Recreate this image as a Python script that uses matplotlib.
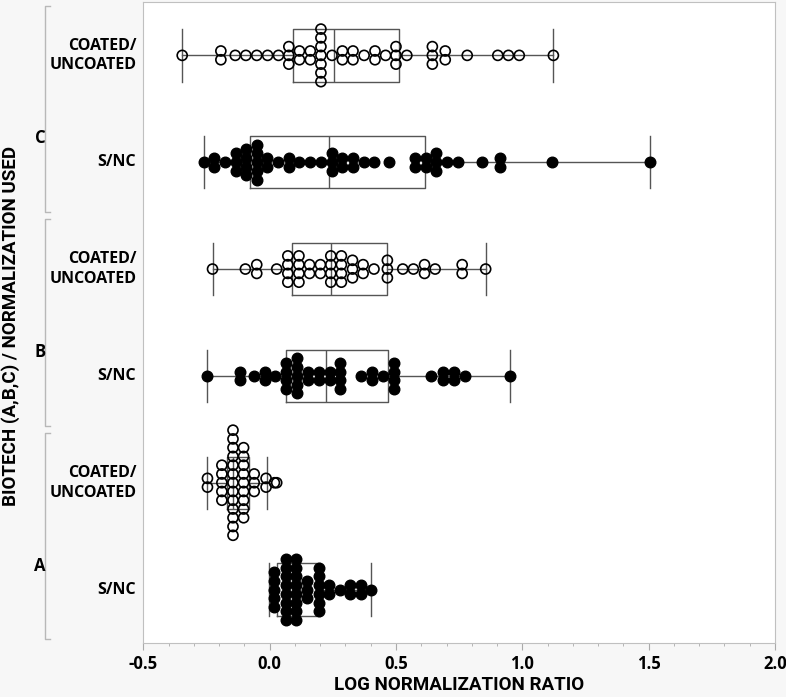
import matplotlib
matplotlib.use("Agg")
import matplotlib.pyplot as plt
import matplotlib.transforms as mtransforms
import numpy as np

# rows from bottom to top
row_labels = ["S/NC", "COATED/\nUNCOATED", "S/NC", "COATED/\nUNCOATED", "S/NC", "COATED/\nUNCOATED"]
group_labels = ["A", "B", "C"]
x_ticks = [-0.5, 0.0, 0.5, 1.0, 1.5, 2.0]

a_snc = [0.016] * 5 + [0.063] * 8 + [0.105] * 8 + [0.149] * 3 + [0.194] * 6 + \
    [0.235] * 2 + [0.277] + [0.317] * 2 + [0.360] * 2 + [0.401]
a_coated = [-0.246] * 2 + [-0.189] * 5 + [-0.145] * 13 + [-0.103] * 9 + \
    [-0.061] * 3 + [-0.014] * 2 + [0.019, 0.028]
b_snc = [-0.246] + [-0.118] * 2 + [-0.063] + [-0.020] * 2 + [0.023] + [0.065] * 4 + \
    [0.108] * 5 + [0.153] * 2 + [0.195] * 2 + [0.238] * 2 + [0.280] * 4 + [0.362] + \
    [0.406] * 2 + [0.450] + [0.493] * 4 + [0.638] + [0.688] * 2 + [0.731] * 2 + [0.774, 0.953]
b_coated = [-0.226, -0.096] + [-0.051] * 2 + [0.028] + [0.072] * 4 + [0.116] * 4 + \
    [0.158] * 2 + [0.201] * 2 + [0.242] * 4 + [0.284] * 4 + [0.328] * 3 + [0.370] * 2 + \
    [0.413] + [0.466] * 3 + [0.527, 0.569] + [0.613] * 2 + [0.655] + [0.762] * 2 + [0.855]
c_snc = [-0.259] + [-0.220] * 2 + [-0.177] + [-0.135] * 3 + [-0.094] * 4 + [-0.051] * 5 + \
    [-0.010] * 2 + [0.032] + [0.076] * 2 + [0.118, 0.161, 0.203] + [0.246] * 3 + \
    [0.288] * 2 + [0.330] * 2 + [0.373, 0.415, 0.471] + [0.574] * 2 + [0.617] * 2 + \
    [0.659] * 3 + [0.702, 0.744, 0.842] + [0.911] * 2 + [1.119, 1.505]
c_coated = [-0.346] + [-0.193] * 2 + [-0.136, -0.094, -0.051, -0.008, 0.035] + [0.076] * 3 + \
    [0.118] * 2 + [0.161] * 2 + [0.203] * 7 + [0.247] + [0.288] * 2 + [0.330] * 2 + [0.374] + \
    [0.417] * 2 + [0.459] + [0.500] * 3 + [0.543] + [0.644] * 3 + [0.695] * 2 + \
    [0.782, 0.903, 0.945, 0.988, 1.123]
row_values = [a_snc, a_coated, b_snc, b_coated, c_snc, c_coated]
row_filled = [True, False, True, False, True, False]

# box stats: low whisker, q1, median, q3, high whisker
whis_lo = [-0.001, -0.246, -0.246, -0.226, -0.259, -0.346]
q1 = [0.030, -0.167, 0.065, 0.088, -0.079, 0.092]
med = [0.090, -0.145, 0.224, 0.244, 0.236, 0.255]
q3 = [0.198, -0.080, 0.467, 0.464, 0.613, 0.513]
whis_hi = [0.401, -0.012, 0.953, 0.855, 1.505, 1.123]

LABEL_FONT = ["Roboto", "DejaVu Sans"]


def main():
    fig = plt.figure(figsize=(7.86, 6.97), dpi=100)
    fig.patch.set_facecolor("#f7f7f7")
    ax = fig.add_axes([0.1823, 0.0775, 0.8037, 0.9197])
    ax.set_facecolor("white")

    stats = []
    for i in range(len(row_values)):
        stats.append(dict(whislo=whis_lo[i], q1=q1[i], med=med[i], q3=q3[i],
                          whishi=whis_hi[i], fliers=[]))
    line = dict(color="#555555", linewidth=1.0)
    ax.bxp(stats, positions=range(len(stats)), orientation="horizontal",
           widths=0.49, capwidths=0.49, showfliers=False,
           boxprops=line, whiskerprops=line, capprops=line, medianprops=line)

    step = 0.082
    for i, vals in enumerate(row_values):
        uniq, counts = np.unique(vals, return_counts=True)
        xs, ys = [], []
        for v, n in zip(uniq, counts):
            for k in range(n):
                xs.append(v)
                ys.append(i + (k - (n - 1) / 2) * step)
        if row_filled[i]:
            ax.scatter(xs, ys, s=58, color="black", zorder=3)
        else:
            ax.scatter(xs, ys, s=52, facecolors="none", edgecolors="black",
                       linewidths=1.2, zorder=3)

    ax.set_xlim(-0.5, 2.0)
    ax.set_ylim(-0.5, 5.5)
    ax.set_xticks(x_ticks)
    ax.set_xticklabels(["%.1f" % t for t in x_ticks], fontfamily="Open Sans",
                       fontweight="bold", fontsize=12)
    ax.set_xticks(np.arange(-0.5, 2.01, 0.1), minor=True)
    ax.tick_params(axis="x", which="major", length=5, color="#aaaaaa", pad=4)
    ax.tick_params(axis="x", which="minor", length=2.5, color="#aaaaaa")
    ax.set_yticks([])
    for sp in ax.spines.values():
        sp.set_color("#c0c0c0")

    ax.set_xlabel("LOG NORMALIZATION RATIO", fontfamily=LABEL_FONT,
                  fontweight="bold", fontsize=13.5, labelpad=2)

    # row labels
    tr = mtransforms.blended_transform_factory(ax.transAxes, ax.transData)
    for i, lab in enumerate(row_labels):
        ax.text(-0.011, i, lab, transform=tr, ha="right", va="center",
                fontfamily="Open Sans", fontweight="bold", fontsize=11.5, linespacing=1.3)

    # group labels and brackets
    trf = mtransforms.blended_transform_factory(fig.transFigure, ax.transData)
    for g, lab in enumerate(group_labels):
        centre = 2 * g + 0.5
        ax.text(40 / 786, centre - 0.276, lab, transform=trf, ha="center",
                va="center", fontfamily="Open Sans", fontweight="bold", fontsize=12)
        bx = 45 / 786
        tx = 50 / 786
        ax.plot([tx, bx, bx, tx], [centre + 0.965, centre + 0.965, centre - 0.965, centre - 0.965],
                transform=trf, color="#b8b8b8", linewidth=1.0, clip_on=False)

    fig.text(11 / 786, 1 - 326 / 697, "BIOTECH (A,B,C) / NORMALIZATION USED",
             rotation=90, ha="center", va="center", fontfamily=LABEL_FONT,
             fontweight="bold", fontsize=13.5)

    fig.savefig("out.png", dpi=100, facecolor=fig.get_facecolor())


if __name__ == "__main__":
    main()
